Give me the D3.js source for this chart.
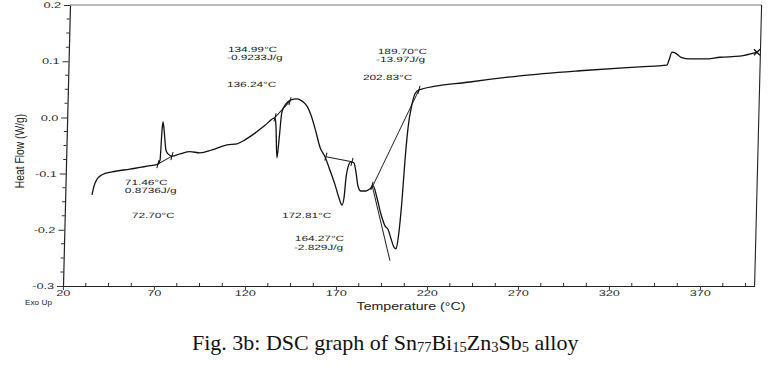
<!DOCTYPE html>
<html>
<head>
<meta charset="utf-8">
<script src="https://cdn.jsdelivr.net/npm/d3@7"></script>
<style>
  body { margin: 0; background: #fff; }
  svg { display: block; }
  .lbl { font-family: "Liberation Sans", Arial, sans-serif; fill: #222; }
</style>
</head>
<body>
<script>
// DSC trace (temperature in °C, heat flow in W/g)
var temps = [34.7, 35.7, 37.2, 39.9, 45.4, 55.2, 66.2, 70.5, 71.6, 72.3, 72.7, 73.4, 74.7, 75.9, 78.1,
  82.5, 87.9, 93.5, 100.0, 108.2, 113.7, 118.0, 123.4, 128.8, 134.2, 134.8, 135.8, 136.7, 137.9,
  140.0, 142.7, 146.0, 148.8, 151.6, 154.5, 156.9, 159.3, 162.2, 165.1, 168.1, 170.4, 172.2,
  173.2, 174.0, 175.0, 176.5, 178.2, 179.4, 180.7, 182.4, 185.2, 187.4, 189.0, 191.3, 193.7,
  196.1, 197.8, 199.6, 201.3, 202.5, 203.4, 205.1, 206.2, 207.4, 209.3, 210.8, 212.9, 240.8,
  268.2, 301.1, 334.0, 348.8, 349.9, 351.4, 353.1, 356.4, 361.4, 369.6, 377.9, 388.8, 398.1];
var heatFlow = [-0.138, -0.122, -0.110, -0.102, -0.097, -0.092, -0.086, -0.083, -0.076, -0.022, -0.008,
  -0.022, -0.058, -0.065, -0.069, -0.065, -0.061, -0.063, -0.058, -0.049, -0.047, -0.040, -0.028,
  -0.014, -0.001, -0.014, -0.072, -0.040, 0.010, 0.024, 0.031, 0.033, 0.029, 0.020, -0.001,
  -0.026, -0.053, -0.070, -0.094, -0.120, -0.143, -0.156, -0.143, -0.108, -0.088, -0.079, -0.081,
  -0.097, -0.122, -0.131, -0.131, -0.127, -0.122, -0.143, -0.172, -0.193, -0.199, -0.216, -0.231,
  -0.234, -0.218, -0.147, -0.076, -0.019, 0.024, 0.042, 0.049, 0.063, 0.074, 0.083, 0.090, 0.093,
  0.102, 0.116, 0.115, 0.107, 0.104, 0.104, 0.107, 0.109, 0.116];

// construction lines of the analysis (start T, start H, end T, end H)
var baseLines = [
  [70.5, -0.083, 78.1, -0.069],
  [134.2, 0.000, 142.2, 0.029],
  [162.7, -0.070, 177.1, -0.079],
  [188.4, -0.120, 199.3, -0.255],
  [188.4, -0.125, 212.9, 0.049]
];
// small cursor marks on the trace
var markT = [70.5, 78.1, 134.2, 142.2, 162.7, 177.1, 188.4, 212.9];
var markH = [-0.083, -0.069, 0.000, 0.029, -0.070, -0.079, -0.122, 0.049];
var endMark = [398.1, 0.116];

// annotation labels and where they sit (T, H)
var annoText = ["134.99°C", "-0.9233J/g", "136.24°C", "189.70°C", "-13.97J/g", "202.83°C",
  "71.46°C", "0.8736J/g", "72.70°C", "172.81°C", "164.27°C", "-2.829J/g"];
var annoT = [107.4, 107.0, 107.4, 189.8, 188.9, 182.0, 52.6, 52.7, 56.9, 139.4, 146.8, 146.4];
var annoH = [0.121, 0.107, 0.058, 0.118, 0.103, 0.072, -0.115, -0.129, -0.174, -0.175, -0.216, -0.231];

var xTicks = [20, 70, 120, 170, 220, 270, 320, 370];
var yTicks = [-0.3, -0.2, -0.1, 0.0, 0.1, 0.2];
var yTickLabels = ["-0.3", "-0.2", "-0.1", "0.0", "0.1", "0.2"];

var trace = temps.map(function(t, i) { return { t: t, h: heatFlow[i] }; });

var svg = d3.select("body").append("svg")
    .attr("width", 770)
    .attr("height", 366);

var plotW = 691.6, plotH = 281;
var x = d3.scaleLinear().domain([20, 400]).range([0, plotW]);
var y = d3.scaleLinear().domain([-0.3, 0.2]).range([plotH, 0]);

// the scan is slightly sheared, so the whole plot leans a little
var g = svg.append("g").attr("transform", "translate(70,5) skewX(-1.43)");

// frame top and right
g.append("line").attr("x1", 0).attr("x2", plotW).attr("y1", 0).attr("y2", 0)
    .attr("stroke", "#777").attr("stroke-width", 1);
g.append("line").attr("x1", plotW).attr("x2", plotW).attr("y1", 0).attr("y2", plotH)
    .attr("stroke", "#222").attr("stroke-width", 1.1);

// minor ticks
var xMinor = d3.range(20, 400, 12.5).filter(function(d) { return xTicks.indexOf(d) < 0; });
g.selectAll(".xminor").data(xMinor).enter().append("line")
    .attr("x1", function(d) { return x(d); }).attr("x2", function(d) { return x(d); })
    .attr("y1", plotH - 3).attr("y2", plotH)
    .attr("stroke", "#333").attr("stroke-width", 1);
var yMinor = d3.range(-0.3, 0.2, 0.025).filter(function(d) { return Math.abs(Math.round(d * 10) - d * 10) > 0.01; });
g.selectAll(".yminor").data(yMinor).enter().append("line")
    .attr("x1", -3).attr("x2", 0)
    .attr("y1", function(d) { return y(d); }).attr("y2", function(d) { return y(d); })
    .attr("stroke", "#333").attr("stroke-width", 1);

// x axis
var xAxis = g.append("g")
    .attr("transform", "translate(0," + plotH + ")")
    .call(d3.axisBottom(x).tickValues(xTicks).tickSize(4).tickSizeOuter(0).tickPadding(0)
      .tickFormat(function(d) { return String(d); }));
xAxis.select(".domain").attr("stroke", "#222").attr("stroke-width", 1.1);
xAxis.selectAll(".tick line").attr("stroke", "#333");
xAxis.selectAll("text").attr("class", "lbl").attr("font-size", 8.4)
    .attr("transform", "scale(1.5,1)");

// y axis
var yAxis = g.append("g")
    .call(d3.axisLeft(y).tickValues(yTicks).tickSize(6).tickSizeOuter(0)
      .tickFormat(function(d, i) { return yTickLabels[i]; }));
yAxis.select(".domain").attr("stroke", "#222").attr("stroke-width", 1.2);
yAxis.selectAll(".tick line").attr("stroke", "#333");
yAxis.selectAll("text").attr("class", "lbl").attr("font-size", 8.4)
    .attr("x", -6).attr("transform", "scale(1.5,1)");

// construction lines
g.selectAll(".base").data(baseLines).enter().append("line")
    .attr("x1", function(d) { return x(d[0]); }).attr("y1", function(d) { return y(d[1]); })
    .attr("x2", function(d) { return x(d[2]); }).attr("y2", function(d) { return y(d[3]); })
    .attr("stroke", "#222").attr("stroke-width", 1);

// trace
var line = d3.line()
    .x(function(d) { return x(d.t); })
    .y(function(d) { return y(d.h); })
    .curve(d3.curveMonotoneX);
g.append("path").datum(trace)
    .attr("d", line)
    .attr("fill", "none")
    .attr("stroke", "#111")
    .attr("stroke-width", 1.3)
    .attr("stroke-linejoin", "round");

// cursor marks
g.selectAll(".mark").data(markT).enter().append("line")
    .attr("x1", function(d) { return x(d) - 1; }).attr("x2", function(d) { return x(d) + 1; })
    .attr("y1", function(d, i) { return y(markH[i]) + 4; })
    .attr("y2", function(d, i) { return y(markH[i]) - 4; })
    .attr("stroke", "#111").attr("stroke-width", 1);
var ex = x(endMark[0]), ey = y(endMark[1]);
g.append("path")
    .attr("d", "M" + (ex - 3) + "," + (ey - 3) + "L" + (ex + 3) + "," + (ey + 3) +
               "M" + (ex - 3) + "," + (ey + 3) + "L" + (ex + 3) + "," + (ey - 3))
    .attr("stroke", "#111").attr("stroke-width", 1.3);

// annotations
g.selectAll(".anno").data(annoText).enter().append("text")
    .attr("class", "lbl")
    .attr("font-size", 7.6)
    .attr("dy", "0.35em")
    .attr("transform", function(d, i) {
      return "translate(" + x(annoT[i]) + "," + y(annoH[i]) + ") scale(1.55,1)";
    })
    .text(function(d) { return d; });

// axis titles
svg.append("text").attr("class", "lbl")
    .attr("font-size", 10)
    .attr("text-anchor", "middle")
    .attr("transform", "translate(411,310) scale(1.42,1)")
    .text("Temperature (°C)");
svg.append("text").attr("class", "lbl")
    .attr("font-size", 10.3)
    .attr("text-anchor", "middle")
    .attr("transform", "translate(24,151) rotate(-90) scale(1,1.3)")
    .text("Heat Flow (W/g)");
svg.append("text").attr("class", "lbl")
    .attr("font-size", 7.5)
    .attr("transform", "translate(25,305) scale(1.1,1)")
    .text("Exo Up");

// caption
var cap = svg.append("text")
    .attr("x", 192).attr("y", 350)
    .attr("font-family", "'Liberation Serif', 'Times New Roman', serif")
    .attr("font-size", 22)
    .attr("fill", "#111");
cap.append("tspan").text("Fig. 3b: DSC graph of Sn");
cap.append("tspan").attr("font-size", 14.5).attr("dy", 2).text("77");
cap.append("tspan").attr("dy", -2).text("Bi");
cap.append("tspan").attr("font-size", 14.5).attr("dy", 2).text("15");
cap.append("tspan").attr("dy", -2).text("Zn");
cap.append("tspan").attr("font-size", 14.5).attr("dy", 2).text("3");
cap.append("tspan").attr("dy", -2).text("Sb");
cap.append("tspan").attr("font-size", 14.5).attr("dy", 2).text("5");
cap.append("tspan").attr("dy", -2).text(" alloy");
</script>
</body>
</html>
